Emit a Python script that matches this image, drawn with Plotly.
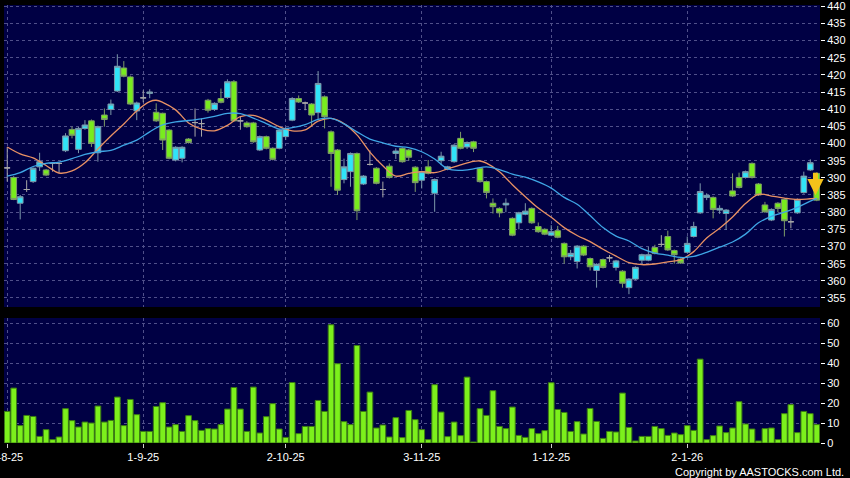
import plotly.graph_objects as go

# daily candles, Aug 2025 - Jan 2026 (trading-day index on x)
open_ = [392.9, 390.1, 382.6, 386.6, 388.9, 393.2, 392.3, 394.2, 394.2, 397.9,
         404.1, 398.3, 404.4, 406.6, 397.3, 408.3, 409.9, 415.3, 422.0, 419.4,
         409.5, 413.3, 414.6, 409.1, 408.8, 403.9, 395.2, 395.7, 401.3, 406.1,
         405.8, 412.6, 409.9, 413.1, 413.4, 418.0, 406.6, 406.0, 406.0, 398.1,
         402.0, 398.6, 398.6, 402.0, 406.8, 413.1, 411.8, 411.5, 409.0, 413.6,
         403.4, 398.1, 389.5, 391.8, 397.1, 388.2, 393.9, 392.8, 386.6, 393.4,
         397.1, 398.6, 398.1, 393.1, 389.3, 393.2, 385.5, 395.0, 392.5, 394.7,
         401.5, 399.0, 400.5, 392.8, 388.9, 382.6, 381.1, 382.1, 378.2, 376.9,
         379.4, 381.1, 375.8, 375.0, 373.3, 374.6, 370.9, 367.0, 365.6, 370.1,
         366.5, 363.0, 366.2, 366.7, 363.9, 362.8, 358.0, 360.5, 366.0, 366.0,
         369.7, 370.6, 372.9, 368.8, 366.3, 368.3, 372.9, 379.8, 384.3, 384.3,
         380.6, 379.6, 386.2, 390.1, 390.1, 394.2, 388.2, 382.1, 377.7, 382.6,
         383.7, 377.2, 379.8, 385.7, 392.3, 391.3]
high = [399.0, 390.5, 385.0, 389.3, 393.0, 397.3, 392.6, 394.5, 394.4, 403.0,
        404.9, 404.8, 406.8, 407.0, 405.2, 410.2, 412.8, 426.0, 424.0, 419.8,
        412.2, 415.5, 415.8, 411.7, 409.0, 404.2, 399.2, 399.2, 401.6, 410.2,
        407.3, 413.0, 412.0, 416.0, 418.7, 418.5, 408.0, 406.5, 406.3, 402.3,
        402.3, 398.9, 404.2, 404.7, 413.5, 414.0, 412.2, 411.8, 421.1, 414.0,
        403.8, 398.4, 395.6, 397.4, 397.4, 390.8, 398.0, 393.1, 388.9, 394.2,
        398.6, 398.9, 398.4, 393.4, 392.1, 395.2, 389.8, 397.6, 393.5, 399.8,
        403.4, 400.6, 400.8, 393.1, 389.2, 384.0, 381.4, 384.0, 378.5, 380.1,
        382.6, 381.4, 377.0, 375.3, 376.2, 376.0, 371.2, 369.0, 370.4, 370.4,
        366.8, 365.1, 366.5, 367.5, 366.1, 363.1, 360.8, 364.2, 367.9, 369.9,
        370.5, 373.3, 374.6, 369.1, 366.6, 372.9, 377.2, 388.4, 385.5, 384.6,
        382.0, 380.9, 391.3, 391.5, 392.1, 394.5, 388.5, 383.0, 381.1, 382.9,
        384.0, 378.7, 384.0, 391.8, 395.4, 391.6]
low = [388.9, 383.5, 377.9, 385.9, 388.5, 392.0, 390.5, 391.8, 391.3, 397.5,
       401.5, 397.2, 404.0, 399.0, 394.7, 404.9, 408.3, 415.0, 419.3, 411.2,
       406.8, 412.0, 413.2, 406.3, 398.1, 395.4, 394.8, 394.5, 400.0, 402.0,
       402.0, 409.0, 409.5, 411.7, 413.0, 406.3, 404.0, 404.6, 400.2, 397.8,
       398.3, 395.1, 398.3, 401.0, 406.5, 411.8, 409.7, 404.9, 407.0, 404.4,
       387.4, 385.0, 388.4, 387.4, 377.7, 387.9, 393.6, 388.1, 384.3, 389.8,
       395.5, 394.4, 395.0, 385.9, 386.9, 391.0, 380.1, 393.7, 392.2, 394.4,
       398.3, 398.4, 397.5, 388.6, 384.0, 379.6, 378.5, 380.0, 373.0, 375.0,
       379.1, 376.6, 374.0, 373.3, 373.0, 372.4, 365.0, 366.0, 363.6, 367.2,
       363.0, 358.0, 363.6, 365.5, 363.0, 358.0, 356.1, 360.2, 365.0, 365.7,
       367.7, 369.9, 368.7, 365.0, 364.9, 368.0, 372.6, 379.5, 383.5, 378.2,
       379.5, 374.8, 384.4, 386.9, 389.8, 389.8, 384.7, 379.8, 377.4, 380.0,
       372.9, 375.3, 379.5, 385.4, 392.0, 383.2]
close = [392.9, 383.7, 384.5, 386.6, 392.8, 394.7, 390.8, 394.2, 394.2, 402.2,
         402.4, 404.4, 405.4, 400.0, 404.9, 407.0, 411.5, 422.5, 419.6, 411.5,
         411.8, 413.3, 415.0, 406.6, 401.0, 395.7, 398.9, 398.9, 400.3, 406.1,
         405.8, 409.7, 411.7, 412.0, 418.0, 406.6, 406.6, 404.9, 400.5, 402.0,
         398.6, 395.4, 403.9, 404.4, 413.1, 412.1, 411.8, 408.3, 417.5, 407.8,
         397.1, 386.4, 393.2, 397.1, 380.4, 390.5, 393.9, 388.4, 386.6, 390.1,
         397.8, 394.7, 396.0, 388.6, 391.8, 391.3, 389.5, 396.3, 393.2, 399.5,
         398.6, 400.3, 398.6, 388.9, 385.7, 381.6, 379.8, 382.6, 373.3, 379.8,
         380.3, 376.9, 374.3, 373.6, 374.3, 372.7, 367.0, 368.0, 370.1, 367.5,
         364.1, 364.8, 363.9, 366.7, 365.8, 359.3, 360.5, 363.9, 367.6, 367.6,
         368.0, 370.6, 369.0, 367.6, 365.2, 370.9, 375.8, 386.0, 384.9, 380.8,
         381.1, 380.6, 384.7, 387.2, 391.8, 390.1, 385.0, 380.1, 380.8, 381.1,
         377.5, 377.2, 383.7, 390.5, 394.4, 383.5]
volume = [15.8, 27.5, 8.7, 13.8, 13.3, 3.3, 6.7, 1.7, 3.0, 17.2,
          11.2, 8.0, 10.5, 10.0, 18.5, 10.5, 11.3, 23.0, 8.7, 21.8,
          14.2, 5.8, 5.8, 18.3, 20.2, 8.0, 9.2, 5.8, 13.7, 11.2,
          6.3, 7.2, 7.0, 9.2, 17.0, 27.8, 17.0, 5.8, 28.0, 5.0,
          13.2, 19.7, 7.0, 2.8, 30.3, 4.7, 8.3, 8.3, 21.3, 15.8,
          59.2, 39.7, 10.7, 9.2, 48.8, 15.8, 25.5, 7.5, 9.0, 3.0,
          12.7, 2.7, 16.3, 11.7, 6.7, 1.7, 29.2, 15.5, 3.2, 10.5,
          3.7, 33.0, 0.5, 17.2, 13.8, 26.2, 8.3, 7.2, 18.0, 3.8,
          2.8, 7.2, 4.7, 6.2, 30.2, 16.8, 15.3, 5.8, 10.7, 4.5,
          17.3, 10.8, 2.3, 5.8, 5.5, 25.0, 7.8, 1.0, 3.3, 3.3,
          8.3, 7.2, 3.8, 5.0, 4.2, 8.7, 6.3, 42.0, 1.7, 3.7,
          8.5, 5.2, 7.5, 20.7, 9.5, 7.0, 1.0, 7.2, 7.5, 1.7,
          14.7, 19.2, 5.2, 15.8, 14.7, 9.2]

# moving averages (index, value)
ma_short_idx = [0, 2, 4, 6, 8, 10, 12, 14, 16, 18, 20, 22, 23, 24, 26, 28, 30, 32,
                34, 36, 38, 40, 42, 44, 46, 48, 50, 52, 54, 56, 58, 60, 62, 64,
                66, 68, 70, 72, 73, 74, 76, 78, 80, 82, 84, 86, 88, 90, 92, 94,
                96, 98, 100, 102, 104, 106, 108, 110, 112, 114, 116, 118, 120,
                122, 124, 125]
ma_short = [399.0, 397.0, 395.8, 393.6, 391.4, 392.0, 394.4, 398.4, 402.2, 405.7,
            409.5, 412.2, 412.6, 412.0, 409.8, 406.0, 404.2, 403.7, 405.3, 407.8,
            408.2, 406.8, 404.9, 403.7, 404.0, 406.5, 407.3, 405.8, 402.5, 397.5,
            393.5, 390.5, 391.3, 391.8, 391.5, 392.6, 393.8, 394.8, 394.9, 394.3,
            391.8, 388.0, 384.5, 381.2, 378.5, 375.5, 373.2, 371.4, 369.2, 367.2,
            365.3, 364.7, 364.9, 365.5, 366.2, 368.5, 372.5, 375.3, 378.6, 382.5,
            385.2, 384.7, 384.1, 383.7, 383.9, 384.0]
ma_long_idx = [0, 2, 4, 6, 8, 10, 12, 14, 16, 18, 20, 22, 24, 26, 28, 30, 32, 34,
               36, 38, 40, 42, 44, 46, 48, 50, 52, 54, 56, 58, 60, 62, 64, 66,
               68, 70, 72, 74, 76, 78, 80, 82, 84, 86, 88, 90, 92, 94, 96, 98,
               100, 102, 104, 106, 108, 110, 112, 114, 116, 118, 120, 122, 124, 125]
ma_long = [390.5, 391.5, 393.3, 394.2, 394.6, 395.6, 396.8, 397.6, 398.0, 399.5,
           401.0, 403.4, 405.4, 406.3, 406.7, 407.2, 407.9, 408.8, 408.7, 407.4,
           405.8, 404.2, 404.6, 405.5, 407.0, 407.3, 405.7, 403.4, 401.3, 400.2,
           399.2, 398.8, 397.6, 395.5, 392.6, 392.2, 392.6, 393.2, 392.4, 391.1,
           390.2, 388.8, 387.0, 384.3, 382.3, 379.0, 375.5, 373.0, 371.6, 369.4,
           368.1, 367.5, 366.8, 367.1, 368.3, 369.8, 371.3, 373.6, 376.9, 378.8,
           380.0, 381.4, 383.2, 384.0]

tick_idx = [0, 21, 43, 64, 84, 105]
tick_text = ['1-8-25', '1-9-25', '2-10-25', '3-11-25', '1-12-25', '2-1-26']
price_ticks = list(range(355, 445, 5))
vol_ticks = list(range(0, 70, 10))

idx = list(range(len(close)))
up = [i for i in idx if close[i] > open_[i]]
dn = [i for i in idx if close[i] < open_[i]]
dj = [i for i in idx if close[i] == open_[i]]

GRID = '#50508a'
FONT = dict(family='Arial, Liberation Sans, sans-serif', size=11, color='#ffffff')


def candles(sel, fill, edge):
    return go.Candlestick(
        x=sel, open=[open_[i] for i in sel], high=[high[i] for i in sel],
        low=[low[i] for i in sel], close=[close[i] for i in sel],
        increasing=dict(fillcolor=fill, line=dict(color=edge, width=1)),
        decreasing=dict(fillcolor=fill, line=dict(color=edge, width=1)),
        whiskerwidth=0, hoverinfo='skip', xaxis='x', yaxis='y')


fig = go.Figure()
fig.add_trace(candles(up, '#30e4f8', '#7c98aa'))
fig.add_trace(candles(dn, '#78ec1e', '#7e9c68'))
fig.add_trace(candles(dj, '#a8a8a8', '#a8a8a8'))

fig.add_trace(go.Scatter(x=ma_short_idx, y=ma_short, mode='lines', line_shape='spline',
                         line=dict(color='#e99164', width=1.3), xaxis='x', yaxis='y'))
fig.add_trace(go.Scatter(x=ma_long_idx, y=ma_long, mode='lines', line_shape='spline',
                         line=dict(color='#3fa6e6', width=1.3), xaxis='x', yaxis='y'))

fig.add_trace(go.Bar(x=idx, y=volume, marker=dict(color='#7cf01c', line=dict(color='#3c7c14', width=1)),
                     xaxis='x2', yaxis='y2', hoverinfo='skip'))

# yellow down arrow on the latest session
fig.add_annotation(x=idx[-1] - 0.2, y=close[-1] + 1.4, ax=idx[-1] - 0.2, ay=open_[-1] + 0.6,
                   xref='x', yref='y', axref='x', ayref='y', text='', showarrow=True,
                   arrowhead=2, arrowsize=0.65, arrowwidth=5, arrowcolor='#f4c21a')

fig.add_annotation(text='Copyright by AASTOCKS.com Ltd.', xref='paper', yref='paper',
                   x=1.032, y=-0.066, xanchor='right', yanchor='middle', showarrow=False,
                   font=dict(family='Arial, Liberation Sans, sans-serif', size=11, color='#ffffff'))

xcommon = dict(range=[-0.5, 125.5], tickvals=tick_idx, showgrid=True, gridcolor=GRID,
               griddash='3px,3px', gridwidth=1, zeroline=False, showline=False,
               automargin=False)
ycommon = dict(side='right', showgrid=True, gridcolor=GRID, griddash='3px,3px', gridwidth=1,
               zeroline=False, showline=False, ticks='outside', ticklen=4, tickcolor='#ffffff',
               tickfont=FONT, automargin=False, ticklabeloverflow='allow')

fig.update_layout(
    width=850, height=478,
    paper_bgcolor='#000000', plot_bgcolor='#000044',
    margin=dict(l=4, r=30, t=5, b=35),
    showlegend=False, bargap=0.12, boxgap=0.12, boxgroupgap=0,
    xaxis=dict(xcommon, anchor='y', showticklabels=False, rangeslider=dict(visible=False)),
    xaxis2=dict(xcommon, anchor='y2', matches='x', ticktext=tick_text, ticks='outside',
                ticklen=4, tickcolor='#cccccc', tickfont=FONT, ticklabeloverflow='allow'),
    yaxis=dict(ycommon, domain=[0.3105, 1], range=[352.37, 440.35], tickvals=price_ticks),
    yaxis2=dict(ycommon, domain=[0, 0.2854], range=[0, 62.6], tickvals=vol_ticks),
)

fig.write_html("out.html", config={'displayModeBar': False},
               post_script="document.body.style.margin='0';")
